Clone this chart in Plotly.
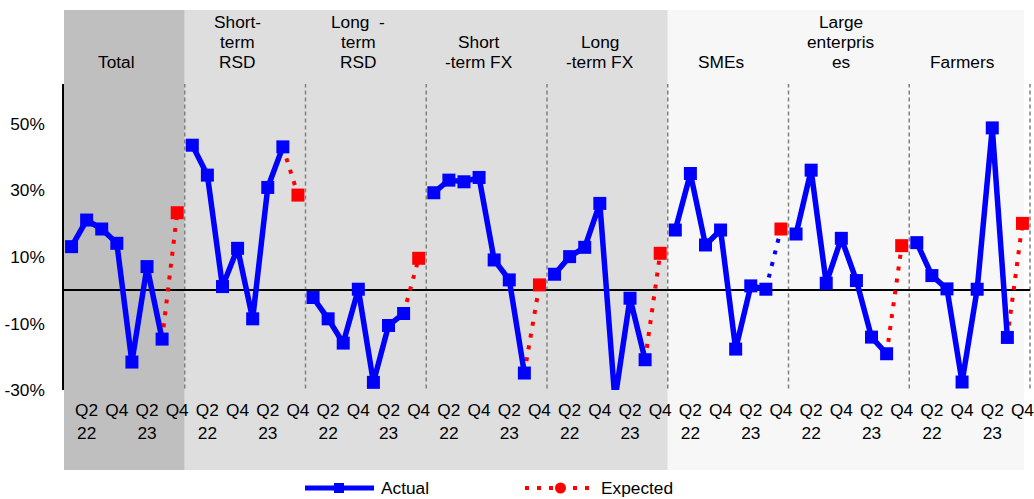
import plotly.graph_objects as go

# ---- data -------------------------------------------------------------
segments = ["Total", "Short-<br>term<br>RSD", "Long  -<br>term<br>RSD", "Short<br>-term FX",
            "Long<br>-term FX", "SMEs", "Large<br>enterpris<br>es", "Farmers"]
quarters = ["Q1 22", "Q2 22", "Q3 22", "Q4 22", "Q1 23", "Q2 23", "Q3 23", "Q4 23"]
tick_labels = ["Q2<br>22", "Q4", "Q2<br>23", "Q4"]
y_tick_values = [-30, -10, 10, 30, 50]

# actual values, Q1 22 .. Q3 23 (%)
actual_total = [13.1, 21.1, 18.4, 14.1, -21.6, 7.1, -14.7]
actual_st_rsd = [43.6, 34.6, 1.1, 12.6, -8.6, 30.9, 43.1]
actual_lt_rsd = [-2.2, -8.6, -15.9, 0.3, -27.7, -10.6, -7.0]
actual_st_fx = [29.3, 33.1, 32.6, 33.9, 9.1, 3.1, -24.9]
actual_lt_fx = [4.8, 10.1, 12.9, 26.1, -33.0, -2.4, -20.9]
actual_smes = [18.1, 35.1, 13.6, 18.1, -17.7, 1.3, 0.3]
actual_large = [16.9, 36.1, 2.1, 15.6, 2.9, -14.1, -19.1]
actual_farmers = [14.3, 4.4, 0.4, -27.6, 0.3, 48.8, -14.2]

# expected values for Q4 23 (%), one per segment
expected_q4 = [23.3, 28.6, 9.6, 1.6, 11.1, 18.4, 13.4, 20.1]

actual_series = [actual_total, actual_st_rsd, actual_lt_rsd, actual_st_fx,
                 actual_lt_fx, actual_smes, actual_large, actual_farmers]

# ---- layout geometry ----------------------------------------------------
W, H = 1034, 499
ML, MR, MT, MB = 64, 4, 84, 109
PW, PH = W - ML - MR, H - MT - MB
NQ = len(quarters)
NCAT = len(segments) * NQ
BLUE, RED = "#0000ff", "#ff0000"
FONT = dict(family="Liberation Sans, Arial, sans-serif", size=17.3, color="#000000")


def pxx(p):
    return (p - ML) / PW


def pxy(p):
    return (H - MB - p) / PH


def cat_paper(x):
    return (x + 0.5) / NCAT


fig = go.Figure()

# actual series: one continuous trace with gaps between segments
ax, ay = [], []
for s, vals in enumerate(actual_series):
    for q, v in enumerate(vals):
        ax.append(s * NQ + q)
        ay.append(v)
    ax.append(None)
    ay.append(None)

# dotted connectors from the last actual value to the expected one
red_x, red_y, blue_x, blue_y = [], [], [], []
for s, vals in enumerate(actual_series):
    xs = [s * NQ + len(vals) - 1, s * NQ + len(vals), None]
    ys = [vals[-1], expected_q4[s], None]
    if segments[s] == "SMEs":
        blue_x += xs
        blue_y += ys
    else:
        red_x += xs
        red_y += ys

dot = "4px,8px"
fig.add_trace(go.Scatter(x=red_x, y=red_y, mode="lines",
                         line=dict(color=RED, width=4, dash=dot), hoverinfo="skip"))
fig.add_trace(go.Scatter(x=blue_x, y=blue_y, mode="lines",
                         line=dict(color=BLUE, width=4, dash=dot), hoverinfo="skip"))
fig.add_trace(go.Scatter(x=ax, y=ay, mode="lines+markers", name="Actual",
                         line=dict(color=BLUE, width=5.5),
                         marker=dict(symbol="square", size=13, color=BLUE)))
fig.add_trace(go.Scatter(x=[s * NQ + NQ - 1 for s in range(len(segments))], y=expected_q4,
                         mode="markers", name="Expected",
                         marker=dict(symbol="square", size=13, color=RED)))

shapes = []
# shaded segment groups
for x0, x1, col in [(0, 8, "#bfbfbf"), (8, 40, "#dedede")]:
    shapes.append(dict(type="rect", xref="paper", yref="paper",
                       x0=x0 / NCAT, x1=x1 / NCAT, y0=pxy(470), y1=pxy(10),
                       fillcolor=col, line=dict(width=0), layer="below"))
shapes.append(dict(type="rect", xref="paper", yref="paper",
                   x0=40 / NCAT, x1=pxx(1024), y0=pxy(470), y1=pxy(10),
                   fillcolor="#f7f7f7", line=dict(width=0), layer="below"))
# dashed separators between segments
for s in range(1, len(segments) + 1):
    shapes.append(dict(type="line", xref="paper", yref="paper",
                       x0=s * NQ / NCAT, x1=s * NQ / NCAT, y0=0.005, y1=1,
                       line=dict(color="#808080", width=1.5, dash="4px,3px"), layer="below"))

# legend drawn below the plot
ly = pxy(488)
shapes.append(dict(type="line", xref="paper", yref="paper",
                   x0=pxx(305), x1=pxx(374), y0=ly, y1=ly,
                   line=dict(color=BLUE, width=5)))
shapes.append(dict(type="rect", xref="paper", yref="paper",
                   x0=pxx(334), x1=pxx(344), y0=pxy(493), y1=pxy(483),
                   fillcolor=BLUE, line=dict(width=0)))
shapes.append(dict(type="line", xref="paper", yref="paper",
                   x0=pxx(525), x1=pxx(592), y0=ly, y1=ly,
                   line=dict(color=RED, width=4, dash="4px,8px")))
shapes.append(dict(type="circle", xref="paper", yref="paper",
                   x0=pxx(555), x1=pxx(566), y0=pxy(493.5), y1=pxy(482.5),
                   fillcolor=RED, line=dict(width=0)))

annotations = []
# segment titles, one annotation per text line so the line pitch stays at 20 px
for s, name in enumerate(segments):
    lines = name.split("<br>")
    for k, line in enumerate(reversed(lines)):
        annotations.append(dict(x=cat_paper(s * NQ + 3), y=pxy(62 - 20 * k),
                                xref="paper", yref="paper", text=line, showarrow=False,
                                xanchor="center", yanchor="middle", font=FONT))
annotations.append(dict(x=pxx(379), y=ly, xref="paper", yref="paper", text="Actual",
                        showarrow=False, xanchor="left", yanchor="middle", font=FONT))
annotations.append(dict(x=pxx(599), y=ly, xref="paper", yref="paper", text="Expected",
                        showarrow=False, xanchor="left", yanchor="middle", font=FONT))

tickvals, ticktext = [], []
for s in range(len(segments)):
    for k, lab in enumerate(tick_labels):
        tickvals.append(s * NQ + 2 * k + 1)
        ticktext.append(lab)

fig.update_layout(
    width=W, height=H,
    margin=dict(l=ML, r=MR, t=MT, b=MB, pad=0, autoexpand=False),
    paper_bgcolor="#ffffff", plot_bgcolor="rgba(0,0,0,0)",
    showlegend=False, font=FONT,
    shapes=shapes, annotations=annotations,
    xaxis=dict(range=[-0.5, NCAT - 0.5], tickmode="array", tickvals=tickvals,
               ticktext=ticktext, showgrid=False, zeroline=False, showline=False,
               ticks="", tickfont=FONT, ticklabelstandoff=8, ticklabeloverflow="allow",
               automargin=False, fixedrange=True),
    yaxis=dict(range=[-30, 62], tickmode="array", tickvals=y_tick_values,
               ticktext=[f"{v}%" for v in y_tick_values], showgrid=False,
               zeroline=True, zerolinecolor="#000000", zerolinewidth=1.5,
               showline=True, linecolor="#000000", linewidth=1.5,
               ticks="", tickfont=FONT, ticklabelstandoff=14, automargin=False,
               fixedrange=True),
)

fig.write_html("out.html")
